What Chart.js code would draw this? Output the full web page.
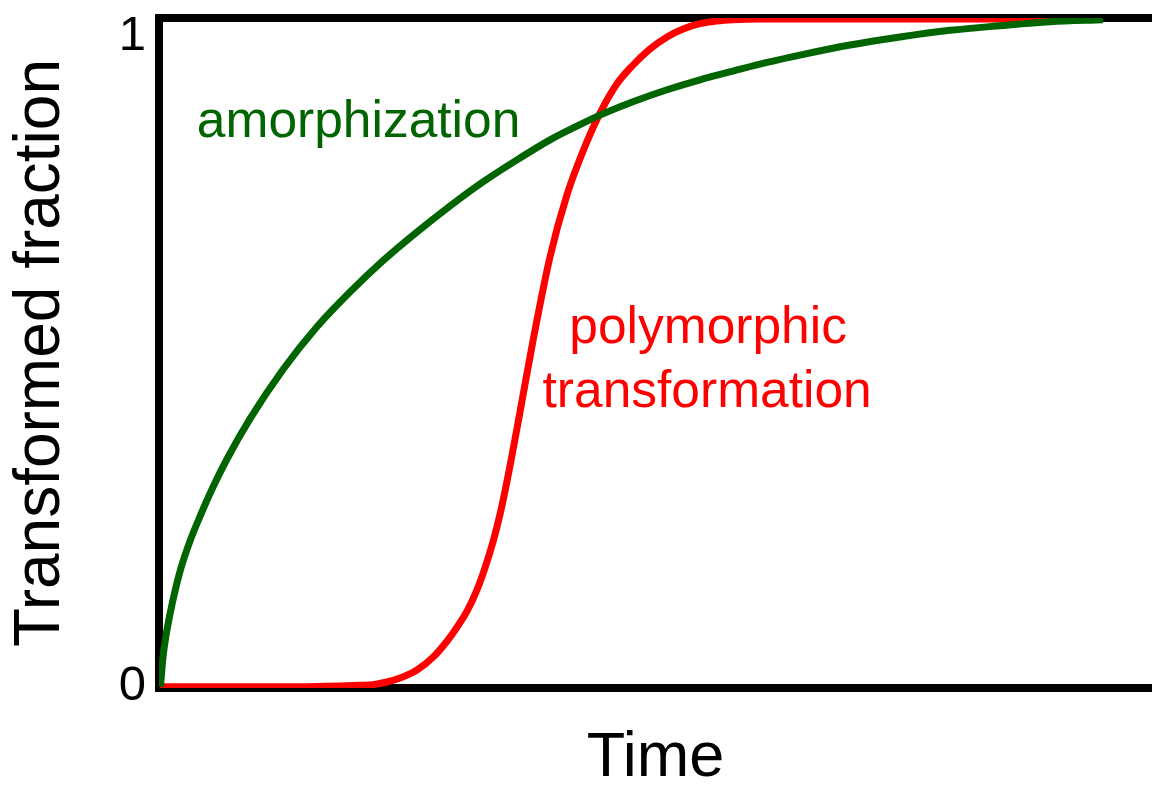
<!DOCTYPE html>
<html>
<head>
<meta charset="utf-8">
<style>
  html, body { margin: 0; background: #fff; }
  #wrap { width: 1152px; height: 787px; }
</style>
<script src="https://cdn.jsdelivr.net/npm/chart.js@4.4.1/dist/chart.umd.min.js"></script>
</head>
<body>
<div id="wrap"><canvas id="grafico"></canvas></div>
<script>
// amorphization curve (time in arbitrary units 0-100, fraction 0-1)
const amorphTime = [0.15, 0.40, 0.70, 1.11, 1.61, 2.22, 3.12, 4.13, 5.44, 6.85, 9.16, 12.49, 15.91, 19.23, 22.56, 25.98, 29.31, 32.63, 36.05, 39.38, 42.70, 44.41, 47.73, 51.16, 54.48, 57.80, 61.23, 64.55, 69.59, 74.62, 79.66, 84.69, 89.73, 95.07];
const amorphFraction = [0, 0.044, 0.076, 0.109, 0.143, 0.178, 0.218, 0.255, 0.299, 0.341, 0.401, 0.475, 0.539, 0.591, 0.638, 0.681, 0.720, 0.756, 0.789, 0.819, 0.844, 0.856, 0.876, 0.894, 0.909, 0.922, 0.935, 0.946, 0.961, 0.973, 0.983, 0.990, 0.996, 0.999];

// polymorphic transformation curve (sigmoid)
const polyTime = [0.10, 14.20, 18.23, 20.24, 21.55, 22.96, 24.27, 25.98, 27.59, 29.00, 30.01, 31.02, 32.02, 32.83, 33.64, 34.34, 35.05, 36.35, 37.66, 39.38, 41.09, 42.70, 44.41, 46.12, 47.73, 49.45, 51.16, 52.77, 54.48, 56.19, 57.80, 60.52, 95.07];
const polyFraction = [0, 0, 0.001, 0.002, 0.003, 0.007, 0.013, 0.025, 0.044, 0.068, 0.089, 0.113, 0.145, 0.178, 0.217, 0.258, 0.308, 0.411, 0.518, 0.644, 0.737, 0.802, 0.859, 0.903, 0.931, 0.955, 0.973, 0.985, 0.993, 0.997, 0.999, 1, 1];

const yTickValues = [0, 1];
const yTickLabels = ["0", "1"];

const FONT = "'Liberation Sans', Arial, sans-serif";
const GREEN = "#006400";
const RED = "#ff0000";

function toPoints(xs, ys) {
    return xs.map((x, i) => ({ x: x, y: ys[i] }));
}

// curve names written inside the plot
const curveLabels = [
    { text: "amorphization", x: 20.1, y: 0.823, color: GREEN },
    { text: "polymorphic", x: 55.3, y: 0.515, color: RED },
    { text: "transformation", x: 55.2, y: 0.419, color: RED }
];

const curveLabelPlugin = {
    id: "curveLabels",
    afterDatasetsDraw(chart) {
        const ctx = chart.ctx;
        const sx = chart.scales.x;
        const sy = chart.scales.y;
        ctx.save();
        ctx.font = "51.5px " + FONT;
        ctx.textAlign = "center";
        ctx.textBaseline = "alphabetic";
        curveLabels.forEach(l => {
            ctx.fillStyle = l.color;
            ctx.fillText(l.text, sx.getPixelForValue(l.x), sy.getPixelForValue(l.y));
        });
        ctx.restore();
    }
};

const border = { display: true, width: 8, color: "#000" };
const noGrid = { display: false, drawTicks: false };

function noPadding(s) {
    s.paddingTop = 0;
    s.paddingBottom = 0;
    s.paddingLeft = 0;
    s.paddingRight = 0;
}

new Chart(document.getElementById("grafico"), {
    type: "line",
    data: {
        datasets: [
            {
                label: "amorphization",
                data: toPoints(amorphTime, amorphFraction),
                borderColor: GREEN,
                borderWidth: 7,
                pointRadius: 0,
                cubicInterpolationMode: "monotone"
            },
            {
                label: "polymorphic transformation",
                data: toPoints(polyTime, polyFraction),
                borderColor: RED,
                borderWidth: 7,
                pointRadius: 0,
                cubicInterpolationMode: "monotone"
            }
        ]
    },
    options: {
        responsive: true,
        maintainAspectRatio: false,
        animation: false,
        layout: { padding: 0 },
        plugins: {
            legend: { display: false },
            tooltip: { enabled: false }
        },
        scales: {
            x: {
                type: "linear",
                position: "bottom",
                min: 0,
                max: 100,
                grid: noGrid,
                border: border,
                ticks: { display: false },
                title: {
                    display: true,
                    text: "Time",
                    color: "#000",
                    font: { size: 63, family: FONT, lineHeight: 0.9 },
                    padding: 0
                },
                afterFit: s => { s.height = 99; noPadding(s); }
            },
            x2: {
                type: "linear",
                position: "top",
                min: 0,
                max: 100,
                grid: noGrid,
                border: border,
                ticks: { display: false },
                afterFit: s => { s.height = 18; noPadding(s); }
            },
            y: {
                type: "linear",
                position: "left",
                min: -0.002,
                max: 1.0015,
                grid: noGrid,
                border: border,
                afterBuildTicks: s => {
                    s.ticks = yTickValues.map(v => ({ value: v }));
                },
                ticks: {
                    color: "#000",
                    padding: 13,
                    // top label sits a little below its tick
                    callback: v => v === 1 ? ["", yTickLabels[1]] : yTickLabels[yTickValues.indexOf(v)],
                    font: c => (c.tick && c.tick.value === 1)
                        ? { size: 49, family: FONT, lineHeight: "34px" }
                        : { size: 49, family: FONT }
                },
                title: {
                    display: true,
                    text: "Transformed fraction",
                    color: "#000",
                    font: { size: 64, family: FONT },
                    padding: { top: 3, bottom: 0 }
                },
                afterFit: s => { s.width = 159; noPadding(s); }
            }
        }
    },
    plugins: [curveLabelPlugin]
});
</script>
</body>
</html>
